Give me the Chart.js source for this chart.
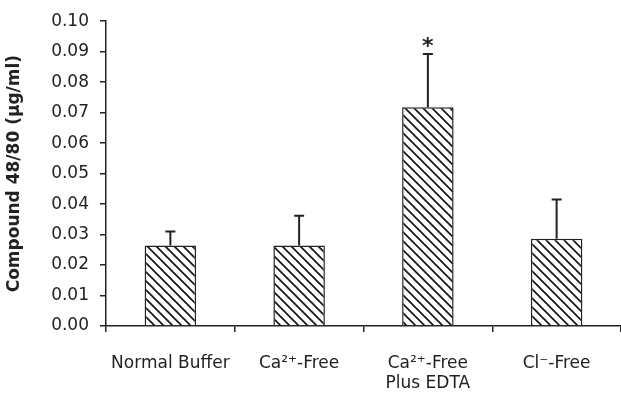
<!DOCTYPE html>
<html>
<head>
<meta charset="utf-8">
<script src="https://cdn.jsdelivr.net/npm/chart.js@4/dist/chart.umd.min.js"></script>
<style>
  body { margin: 0; background: #fff; }
</style>
</head>
<body>
<canvas id="myChart" width="621" height="396"></canvas>
<script>
// data
var labels = [['Normal Buffer'], ['Ca\u00b2\u207a-Free'], ['Ca\u00b2\u207a-Free', 'Plus EDTA'], ['Cl\u207b-Free']];
var means = [0.0264, 0.0264, 0.0718, 0.0286];
var errors = [0.0046, 0.0098, 0.0174, 0.0129];
var marks = ['', '', '*', ''];
var yTicks = [0, 0.01, 0.02, 0.03, 0.04, 0.05, 0.06, 0.07, 0.08, 0.09, 0.10];

var ink = '#222';
var font = 'DejaVu Sans';

// "\\\\" hatching for the bars
function hatch() {
  var s = 9;
  var c = document.createElement('canvas');
  c.width = s; c.height = s;
  var g = c.getContext('2d');
  g.fillStyle = '#fff';
  g.fillRect(0, 0, s, s);
  g.strokeStyle = '#111';
  g.lineWidth = 1.6;
  g.beginPath();
  g.moveTo(-1, -1); g.lineTo(s + 1, s + 1);
  g.moveTo(-2, s - 2); g.lineTo(2, s + 2);
  g.moveTo(s - 2, -2); g.lineTo(s + 2, 2);
  g.stroke();
  return g.createPattern(c, 'repeat');
}

// upper error bars + significance mark
var errorBars = {
  id: 'errorBars',
  afterDatasetsDraw: function(chart) {
    var ctx = chart.ctx;
    var y = chart.scales.y;
    var meta = chart.getDatasetMeta(0);
    ctx.save();
    ctx.strokeStyle = ink;
    ctx.lineWidth = 2;
    meta.data.forEach(function(bar, i) {
      var top = y.getPixelForValue(means[i] + errors[i]);
      ctx.beginPath();
      ctx.moveTo(bar.x, bar.y);
      ctx.lineTo(bar.x, top);
      ctx.moveTo(bar.x - 5, top);
      ctx.lineTo(bar.x + 5, top);
      ctx.stroke();
      if (marks[i]) {
        ctx.fillStyle = ink;
        ctx.font = 'bold 22px ' + font;
        ctx.textAlign = 'center';
        ctx.textBaseline = 'alphabetic';
        ctx.fillText(marks[i], bar.x, top - 1);
      }
    });
    ctx.restore();
  }
};

var ctx = document.getElementById('myChart').getContext('2d');
var myChart = new Chart(ctx, {
  type: 'bar',
  data: {
    labels: labels,
    datasets: [{
      data: means,
      backgroundColor: hatch(),
      borderColor: ink,
      borderWidth: 1.5,
      barPercentage: 0.4,
      categoryPercentage: 1
    }]
  },
  options: {
    responsive: false,
    animation: false,
    layout: { padding: { top: 20, right: 0, bottom: 0, left: 0 } },
    plugins: {
      legend: { display: false },
      tooltip: { enabled: false }
    },
    scales: {
      x: {
        grid: { drawOnChartArea: false, color: ink, lineWidth: 1.5, tickLength: 6, offset: true },
        border: { color: ink, width: 1.5 },
        ticks: { color: ink, font: { family: font, size: 17 }, padding: 21, maxRotation: 0, autoSkip: false },
        afterFit: function(scale) { scale.height = 70; }
      },
      y: {
        min: 0,
        max: 0.10,
        afterBuildTicks: function(scale) {
          scale.ticks = yTicks.map(function(v) { return { value: v }; });
        },
        grid: { drawOnChartArea: false, color: ink, lineWidth: 1.5, tickLength: 6 },
        border: { color: ink, width: 1.5 },
        ticks: {
          color: ink,
          font: { family: font, size: 17 },
          padding: 11,
          callback: function(v) { return v.toFixed(2); }
        },
        title: {
          display: true,
          text: 'Compound 48/80 (\u00b5g/ml)',
          color: ink,
          font: { family: font, size: 17, weight: 'bold' },
          padding: { top: 4, bottom: 0 }
        },
        afterFit: function(scale) { scale.width = 106; }
      }
    }
  },
  plugins: [errorBars]
});
</script>
</body>
</html>
